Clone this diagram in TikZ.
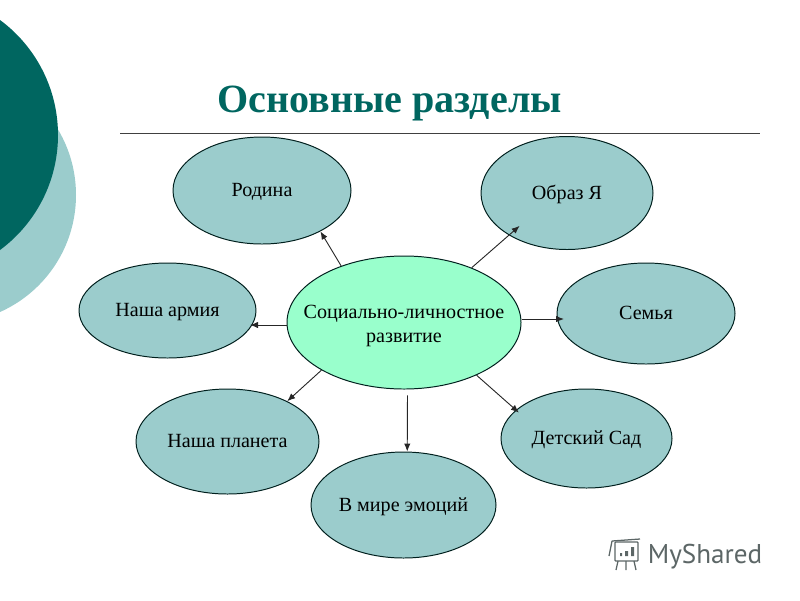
\documentclass[tikz,border=0pt]{standalone}
\usepackage{fontspec}
\usetikzlibrary{shapes.geometric, arrows.meta}
\setmainfont{Liberation Serif}
\newfontfamily\logofont{PT Sans}
\definecolor{darkteal}{RGB}{0,102,96}
\definecolor{lightteal}{RGB}{155,204,204}
\definecolor{mintgreen}{RGB}{153,255,204}
\definecolor{logogray}{RGB}{92,102,102}
\begin{document}
\begin{tikzpicture}[x=0.025cm, y=-0.025cm, >={Latex[length=2mm,width=1.6mm]},
    main/.style 2 args = {draw=black!70!darkteal, line width=0.7pt, ellipse, fill=lightteal, inner xsep=-30pt, inner ysep=0pt, minimum width=#1*0.025cm, minimum height=#2*0.025cm, font=\fontsize{14.3}{17}\selectfont, align=center, execute at begin node={\rule[-3pt]{0pt}{15.2pt}}},
    hub/.style = {fill=mintgreen},
    link/.style = {->, line width=0.65pt, black!85}]
    \useasboundingbox (0,0) rectangle (800,600);
    \begin{scope}
        \clip (0,0) rectangle (800,600);
        \fill[lightteal] (-52,195) circle[radius=128*0.025cm];
        \fill[darkteal] (-85,135) circle[radius=143*0.025cm];
    \end{scope}
    \node[text=darkteal, font=\fontsize{28.5}{30}\selectfont\bfseries] (title) at (389.5,103) {Основные разделы};
    \coordinate (ruleleft) at (120,133);
    \coordinate (ruleright) at (760,133);
    \draw[line width=0.7pt, black!75] (ruleleft) -- (ruleright);
    \node[main={234}{133}, hub] (center) at (404,322.5) {\rule{0pt}{14.5pt}Социально-личностное\\развитие};
    \node[main={178}{107}] (rodina) at (262,190.5) {Родина};
    \node[main={172}{113}] (obraz) at (567,193) {Образ Я};
    \node[main={177}{95}] (army) at (167.5,310.5) {Наша армия};
    \node[main={178}{101}] (family) at (646,313.5) {Семья};
    \node[main={183}{105}] (planet) at (227.5,441.5) {Наша планета};
    \node[main={171}{99}] (garden) at (586.5,438.5) {Детский Сад};
    \node[main={185}{106}] (emotions) at (403.5,505) {В мире эмоций};
    \coordinate (armytip) at (250,325);
    \coordinate (familytip) at (564,319);
    \draw[link] (center.138.2) -- (rodina.-35.9);
    \draw[link, shorten >=-0.356cm] (center.39.6) -- (obraz.-144.8);
    \draw[link] (center.west |- armytip) -- (armytip);
    \draw[link] (center.east |- familytip) -- (familytip);
    \draw[link, shorten >=-0.1cm] (center.-36.2) -- (garden.158.3);
    \draw[link, shorten <=0.15cm] (center.-87.4) -- (emotions.86.2);
    \draw[link] (center.210.9) -- (planet.34.4);
    % logo
    \node[text=logogray, font=\logofont\fontsize{19.3}{20}\selectfont, anchor=base west, inner sep=0pt] (logo) at (647.5,563) {MyShared};
    \draw[logogray, line width=0.9pt, rounded corners=0.5pt] (615,542) rectangle (638,561);
    \draw[logogray, line width=0.9pt] (612,541) -- (640,539) (612,541) -- (609,556) (618,561) -- (616,570) (626,561) -- (626,570) (634,561) -- (636,570);
    \fill[logogray] (620,553) rectangle (622,556) (625,551) rectangle (628,556) (631,547) rectangle (634,556);
\end{tikzpicture}
\end{document}
